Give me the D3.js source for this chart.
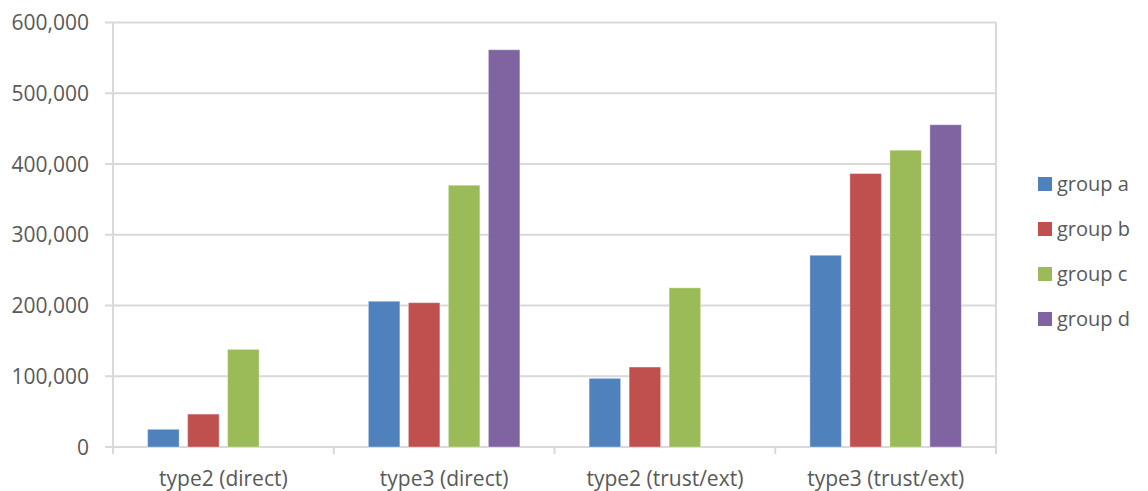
<!DOCTYPE html>
<html>
<head>
<meta charset="utf-8">
<script src="https://cdn.jsdelivr.net/npm/d3@7"></script>
<style>
  html, body { margin: 0; padding: 0; background: #fff; }
  svg { display: block; }
  text { font-family: "Open Sans", sans-serif; fill: #595959; }
</style>
</head>
<body>
<svg id="chart" width="1148" height="491"></svg>
<script>
// Chart data
const categories = ["type2 (direct)", "type3 (direct)", "type2 (trust/ext)", "type3 (trust/ext)"];
const groups = ["group a", "group b", "group c", "group d"];
const groupA = [25000, 206000, 97000, 271000];
const groupB = [46500, 204000, 113000, 386500];
const groupC = [138000, 370000, 225000, 419500];
const groupD = [0, 561500, 0, 455500];
const yTicks = [0, 100000, 200000, 300000, 400000, 500000, 600000];
const colors = ["#4f81bd", "#c0504d", "#9bbb59", "#8064a2"];

const seriesValues = [groupA, groupB, groupC, groupD];
const rows = categories.map((c, i) => ({
  category: c,
  values: groups.map((g, j) => ({ group: g, value: seriesValues[j][i] }))
}));

const svg = d3.select("#chart");
const plot = { left: 113, right: 996, top: 22.5, bottom: 447 };

const x0 = d3.scaleBand().domain(categories).range([plot.left, plot.right]).padding(0);
// inner band: 4 slots of 40px centred in each category, bars leave an 8.5px gap
const slot = 40, gap = 8.5;
const innerStart = (x0.bandwidth() - (groups.length * slot - gap)) / 2;
const x1 = d3.scaleBand().domain(groups)
  .range([innerStart, innerStart + groups.length * slot])
  .padding(0);
const barW = x1.step() - gap;
const y = d3.scaleLinear().domain([0, 600000]).range([plot.bottom, plot.top]);

// Horizontal gridlines with short tick stubs on the left
svg.append("g")
  .selectAll("line")
  .data(yTicks)
  .join("line")
  .attr("x1", plot.left - 8)
  .attr("x2", plot.right)
  .attr("y1", d => y(d))
  .attr("y2", d => y(d))
  .attr("stroke", "#d9d9d9")
  .attr("stroke-width", 2);

// Left axis line and right border line
svg.append("line")
  .attr("x1", plot.left).attr("x2", plot.left)
  .attr("y1", plot.top).attr("y2", plot.bottom + 7)
  .attr("stroke", "#d9d9d9").attr("stroke-width", 2);
svg.append("line")
  .attr("x1", plot.right).attr("x2", plot.right)
  .attr("y1", plot.top).attr("y2", plot.bottom + 7)
  .attr("stroke", "#d9d9d9").attr("stroke-width", 2);

// Category boundary ticks below the baseline
svg.append("g")
  .selectAll("line")
  .data(categories.slice(1))
  .join("line")
  .attr("x1", d => x0(d)).attr("x2", d => x0(d))
  .attr("y1", plot.bottom).attr("y2", plot.bottom + 7)
  .attr("stroke", "#d9d9d9").attr("stroke-width", 2);

// Y tick labels
const fmt = d3.format(",");
svg.append("g")
  .selectAll("text")
  .data(yTicks)
  .join("text")
  .attr("x", 89)
  .attr("y", d => y(d))
  .attr("dy", "0.36em")
  .attr("text-anchor", "end")
  .attr("font-size", 21)
  .text(d => fmt(d));

// Category labels
svg.append("g")
  .selectAll("text")
  .data(categories)
  .join("text")
  .attr("x", d => x0(d) + x0.bandwidth() / 2)
  .attr("y", 486)
  .attr("text-anchor", "middle")
  .attr("font-size", 21)
  .text(d => d);

// Bars
svg.append("g")
  .selectAll("g")
  .data(rows)
  .join("g")
  .attr("transform", d => `translate(${x0(d.category)},0)`)
  .selectAll("rect")
  .data(d => d.values.filter(v => v.value > 0))
  .join("rect")
  .attr("x", d => x1(d.group))
  .attr("width", barW)
  .attr("y", d => y(d.value))
  .attr("height", d => y(0) - y(d.value))
  .attr("fill", (d) => colors[groups.indexOf(d.group)])
  .attr("stroke", "#ffffff")
  .attr("stroke-opacity", 0.35)
  .attr("stroke-width", 1);

// Legend
const legend = svg.append("g")
  .selectAll("g")
  .data(groups)
  .join("g")
  .attr("transform", (d, i) => `translate(1038,${184 + i * 45})`);
legend.append("rect")
  .attr("x", 0).attr("y", -7)
  .attr("width", 14).attr("height", 14)
  .attr("fill", (d, i) => colors[i]);
legend.append("text")
  .attr("x", 19)
  .attr("y", 0)
  .attr("dy", "0.34em")
  .attr("font-size", 20)
  .text(d => d);
</script>
</body>
</html>
